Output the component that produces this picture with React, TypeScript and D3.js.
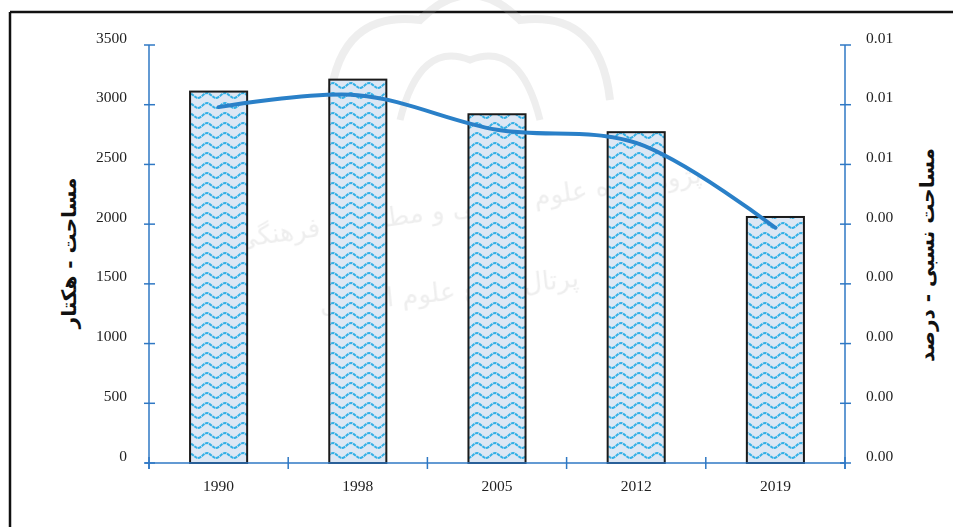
import React from "react";
import * as d3 from "d3";

const years = ["1990", "1998", "2005", "2012", "2019"];
const areaHa = [3110, 3210, 2920, 2770, 2060];
const relativeArea = [0.00596, 0.00616, 0.00558, 0.00536, 0.00394];
const leftTicks = [0, 500, 1000, 1500, 2000, 2500, 3000, 3500];
const rightTicks = [0, 0.001, 0.002, 0.003, 0.004, 0.005, 0.006, 0.007];
const leftTitle = "مساحت - هکتار";
const rightTitle = "مساحت نسبی - درصد";

const W = 953;
const H = 527;
const plotL = 149;
const plotR = 845;
const plotT = 45;
const plotB = 463;
const axisColor = "#2f78c4";

export default function App() {
  const xBand = d3.scaleBand<string>().domain(years).range([plotL, plotR]).paddingInner(0.59).paddingOuter(0.295);
  const xTick = d3.scaleBand<string>().domain(years).range([plotL, plotR]).padding(0);
  const yL = d3.scaleLinear().domain([0, 3500]).range([plotB, plotT]);
  const yR = d3.scaleLinear().domain([0, 0.007]).range([plotB, plotT]);
  const cx = (y: string) => (xBand(y) ?? 0) + xBand.bandwidth() / 2;

  const line = d3
    .line<number>()
    .x((_, i) => cx(years[i]))
    .y((d) => yR(d))
    .curve(d3.curveCatmullRom.alpha(0.5));

  const tickXs = [...years.map((y) => xTick(y) ?? 0), plotR];

  return (
    <svg width={W} height={H} style={{ position: "absolute", left: 0, top: 0, background: "#fff" }}>
      <defs>
        <pattern id="wave" width={18} height={10} patternUnits="userSpaceOnUse">
          <rect width={18} height={10} fill="#dde7f4" />
          <path d="M0 8 C3 8 6 3 9 3 S15 8 18 8" fill="none" stroke="#33b0e6" strokeWidth={2.1} strokeDasharray="3.5 0.7" />
        </pattern>
      </defs>
      {/* frame */}
      <line x1={10} y1={12} x2={W} y2={12} stroke="#111" strokeWidth={2.5} />
      <line x1={10} y1={12} x2={10} y2={H} stroke="#111" strokeWidth={2.5} />

      {/* watermark */}
      <g fill="#aaa" opacity={0.2} fontFamily="DejaVu Sans" fontSize={26}>
        <text x={470} y={215} textAnchor="middle" transform="rotate(-8 470 215)">پژوهشگاه علوم انسانی و مطالعات فرهنگی</text>
        <text x={450} y={300} textAnchor="middle" transform="rotate(-6 450 300)">پرتال جامع علوم انسانی</text>
        <path d="M330 100 Q340 10 420 20 Q470 -30 520 20 Q600 10 610 100" fill="none" stroke="#aaa" strokeWidth={8} />
        <path d="M400 120 Q420 40 470 60 Q520 40 540 120" fill="none" stroke="#aaa" strokeWidth={7} />
      </g>

      {/* bars */}
      {years.map((y, i) => (
        <rect
          key={y}
          x={xBand(y)}
          y={yL(areaHa[i])}
          width={xBand.bandwidth()}
          height={plotB - yL(areaHa[i])}
          fill="url(#wave)"
          stroke="#1a1a1a"
          strokeWidth={2}
        />
      ))}

      {/* axes */}
      <g stroke={axisColor} strokeWidth={1.5}>
        <line x1={plotL} y1={plotT} x2={plotL} y2={plotB + 6} />
        <line x1={plotR} y1={plotT} x2={plotR} y2={plotB + 6} />
        <line x1={plotL - 4} y1={plotB} x2={plotR + 1} y2={plotB} />
        {leftTicks.map((t) => (
          <line key={"l" + t} x1={plotL - 5} x2={plotL + 6} y1={yL(t)} y2={yL(t)} />
        ))}
        {rightTicks.map((t) => (
          <line key={"r" + t} x1={plotR - 5} x2={plotR + 6} y1={yR(t)} y2={yR(t)} />
        ))}
        {tickXs.map((x, i) => (
          <line key={"x" + i} x1={x} x2={x} y1={plotB - 6} y2={plotB + 6} />
        ))}
      </g>

      {/* line series */}
      <path d={line(relativeArea) ?? ""} fill="none" stroke="#2a80c8" strokeWidth={4} strokeLinecap="round" />

      {/* tick labels */}
      <g fontFamily="Liberation Serif" fontSize={15.5} fill="#222">
        {leftTicks.map((t) => (
          <text key={"lt" + t} x={127} y={yL(t) - 6} textAnchor="end" dominantBaseline="middle">
            {t}
          </text>
        ))}
        {rightTicks.map((t) => (
          <text key={"rt" + t} x={866} y={yR(t) - 6} textAnchor="start" dominantBaseline="middle">
            {d3.format(".2f")(t)}
          </text>
        ))}
        {years.map((y) => (
          <text key={"xt" + y} x={cx(y)} y={487} textAnchor="middle" dominantBaseline="middle">
            {y}
          </text>
        ))}
      </g>

      {/* axis titles */}
      <text
        transform={`translate(70 253) rotate(-90)`}
        textAnchor="middle"
        dominantBaseline="middle"
        fontFamily="DejaVu Sans"
        fontWeight="bold"
        fontSize={20}
        fill="#111"
        direction="rtl"
      >
        {leftTitle}
      </text>
      <text
        transform={`translate(928 255) rotate(-90)`}
        textAnchor="middle"
        dominantBaseline="middle"
        fontFamily="DejaVu Sans"
        fontWeight="bold"
        fontSize={20}
        fill="#111"
        direction="rtl"
      >
        {rightTitle}
      </text>
    </svg>
  );
}
